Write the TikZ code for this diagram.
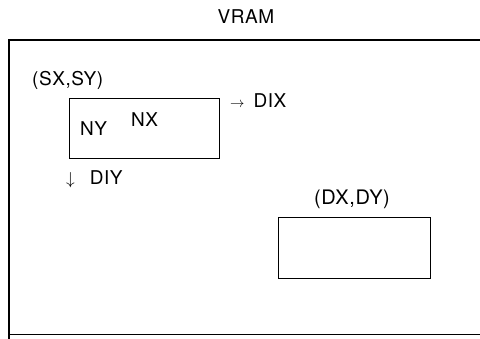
\documentclass[tikz,border=0pt]{standalone}
\usepackage{fontspec}
\setmainfont[LetterSpace=3]{TeX Gyre Heros}
\begin{document}
\begin{tikzpicture}[x=1pt,y=-1pt,
  lbl/.style={inner sep=0pt,font=\fontsize{19}{22}\selectfont},
  box/.style={draw,line width=0.8pt,inner sep=0pt},
  frame/.style={draw,line width=1.3pt}]
\useasboundingbox (0,0) rectangle (480,338);
\node[lbl] (vram) at (246,17) {VRAM};
\draw[frame] (482,40) -- (9,40) -- (9,340);
\draw[line width=1pt] (9,334) -- (482,334);
\node[lbl,anchor=west] (sxsy) at (32,80) {(SX,SY)};
\node[box,minimum width=150pt,minimum height=60pt,anchor=north west] (src) at (69,98) {};
\node[lbl,anchor=west] (dix) at (230,101) {{\fontsize{14}{14}\selectfont$\rightarrow$}\hspace{9pt}DIX};
\node[lbl,anchor=west] (ny) at (80,129) {NY};
\node[lbl,anchor=west] (nx) at (131,120) {NX};
\node[lbl,anchor=west] (diy) at (66,179) {{\fontsize{17}{17}\selectfont$\downarrow$}\hspace{15pt}DIY};
\node[lbl,anchor=west,font=\fontsize{20}{22}\selectfont] (dxdy) at (314,199) {(DX,DY)};
\node[box,minimum width=152pt,minimum height=61pt,anchor=north west] (dst) at (278,217) {};
\end{tikzpicture}
\end{document}
